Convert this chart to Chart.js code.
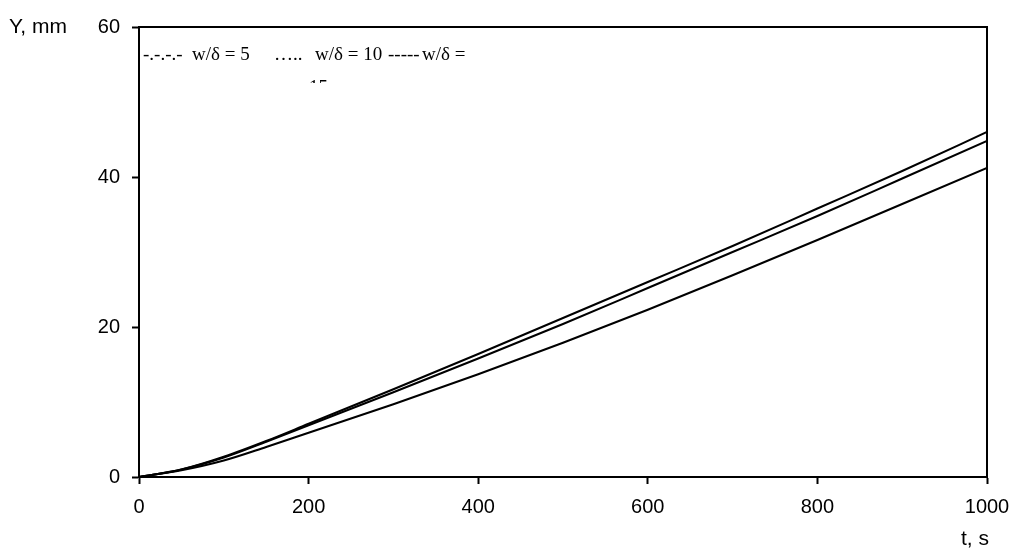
<!DOCTYPE html>
<html lang="en">
<head>
  <meta charset="UTF-8">
  <title>Y, mm vs t, s</title>
  <script src="https://cdn.jsdelivr.net/npm/chart.js"></script>
  <style>
    body { margin: 0; background: #fff; }
    #wrap { width: 1012px; height: 551px; }
  </style>
</head>
<body>
  <div id="wrap">
    <canvas id="yChart" width="1012" height="551"></canvas>
  </div>

  <script>
    // t, s
    var times = [0, 50, 100, 150, 200, 300, 400, 500, 600, 700, 800, 900, 1000];
    // Y, mm  (three curves, all drawn solid black in the original)
    var seriesA = [0, 1.0, 2.7, 4.8, 7.1, 11.7, 16.4, 21.2, 26.0, 30.8, 35.8, 40.8, 46.0];
    var seriesB = [0, 1.0, 2.6, 4.7, 6.9, 11.3, 15.8, 20.4, 25.2, 30.0, 34.8, 39.8, 44.8];
    var seriesC = [0, 0.9, 2.2, 4.0, 5.9, 9.7, 13.7, 17.9, 22.3, 26.9, 31.6, 36.4, 41.2];
    var seriesNames = ["w/δ = 15", "w/δ = 10", "w/δ = 5"];

    var xTicks = [0, 200, 400, 600, 800, 1000];
    var yTicks = [0, 20, 40, 60];

    var sansFont = "'Liberation Sans', Arial, sans-serif";
    var serifFont = "'Liberation Serif', 'Times New Roman', serif";

    function toPoints(ys) {
      return times.map(function (t, i) { return { x: t, y: ys[i] }; });
    }

    var frameAndText = {
      id: "frameAndText",
      afterDraw: function (chart) {
        var c = chart.ctx;
        var a = chart.chartArea;
        c.save();
        // top and right frame
        c.strokeStyle = "#000";
        c.lineWidth = 2;
        c.beginPath();
        c.moveTo(a.left, a.top);
        c.lineTo(a.right, a.top);
        c.lineTo(a.right, a.bottom);
        c.stroke();

        // axis titles
        c.fillStyle = "#000";
        c.font = "21px " + sansFont;
        c.textBaseline = "middle";
        c.textAlign = "left";
        c.fillText("Y, mm", 9, 27);
        c.textAlign = "right";
        c.fillText("t, s", 989, 539);

        // legend text typed inside the plot
        c.font = "19px " + serifFont;
        c.textAlign = "left";
        c.textBaseline = "alphabetic";
        c.fillText("-.-.-.-", 143, 60);
        c.fillText("w/δ = 5", 192, 60);
        c.fillText("…..", 274, 60);
        c.fillText("w/δ = 10", 315, 60);
        c.fillText("-----", 388, 60);
        c.fillText("w/δ =", 422, 60);
        // wrapped "15" cut off by the text box
        c.beginPath();
        c.rect(300, 78, 40, 5);
        c.clip();
        c.fillText("15", 309, 93);
        c.restore();
      }
    };

    var ctx = document.getElementById("yChart").getContext("2d");
    var yChart = new Chart(ctx, {
      type: "scatter",
      data: {
        datasets: [seriesA, seriesB, seriesC].map(function (ys, i) {
          return {
            label: seriesNames[i],
            data: toPoints(ys),
            showLine: true,
            borderColor: "#000",
            borderWidth: 2,
            pointRadius: 0,
            cubicInterpolationMode: "monotone",
            fill: false
          };
        })
      },
      options: {
        responsive: false,
        animation: false,
        layout: { padding: { top: 27, right: 25, left: 0, bottom: 0 } },
        plugins: {
          legend: { display: false },
          tooltip: { enabled: false }
        },
        scales: {
          x: {
            type: "linear",
            min: 0,
            max: 1000,
            afterFit: function (s) {
              s.height = 74;
              s.paddingLeft = 0;
              s.paddingRight = 0;
            },
            afterBuildTicks: function (s) {
              s.ticks = xTicks.map(function (v) { return { value: v }; });
            },
            ticks: {
              color: "#000",
              font: { size: 20, family: sansFont },
              padding: 11,
              maxRotation: 0,
              callback: function (v) { return String(v); }
            },
            grid: {
              drawOnChartArea: false,
              drawTicks: true,
              tickLength: 7,
              tickColor: "#000",
              tickWidth: 2
            },
            border: { color: "#000", width: 2 }
          },
          y: {
            min: 0,
            max: 60,
            afterFit: function (s) {
              s.width = 139;
              s.paddingTop = 0;
              s.paddingBottom = 0;
            },
            afterBuildTicks: function (s) {
              s.ticks = yTicks.map(function (v) { return { value: v }; });
            },
            ticks: {
              color: "#000",
              font: { size: 20, family: sansFont },
              padding: 12
            },
            grid: {
              drawOnChartArea: false,
              drawTicks: true,
              tickLength: 7,
              tickColor: "#000",
              tickWidth: 2
            },
            border: { color: "#000", width: 2 }
          }
        }
      },
      plugins: [frameAndText]
    });
  </script>
</body>
</html>
